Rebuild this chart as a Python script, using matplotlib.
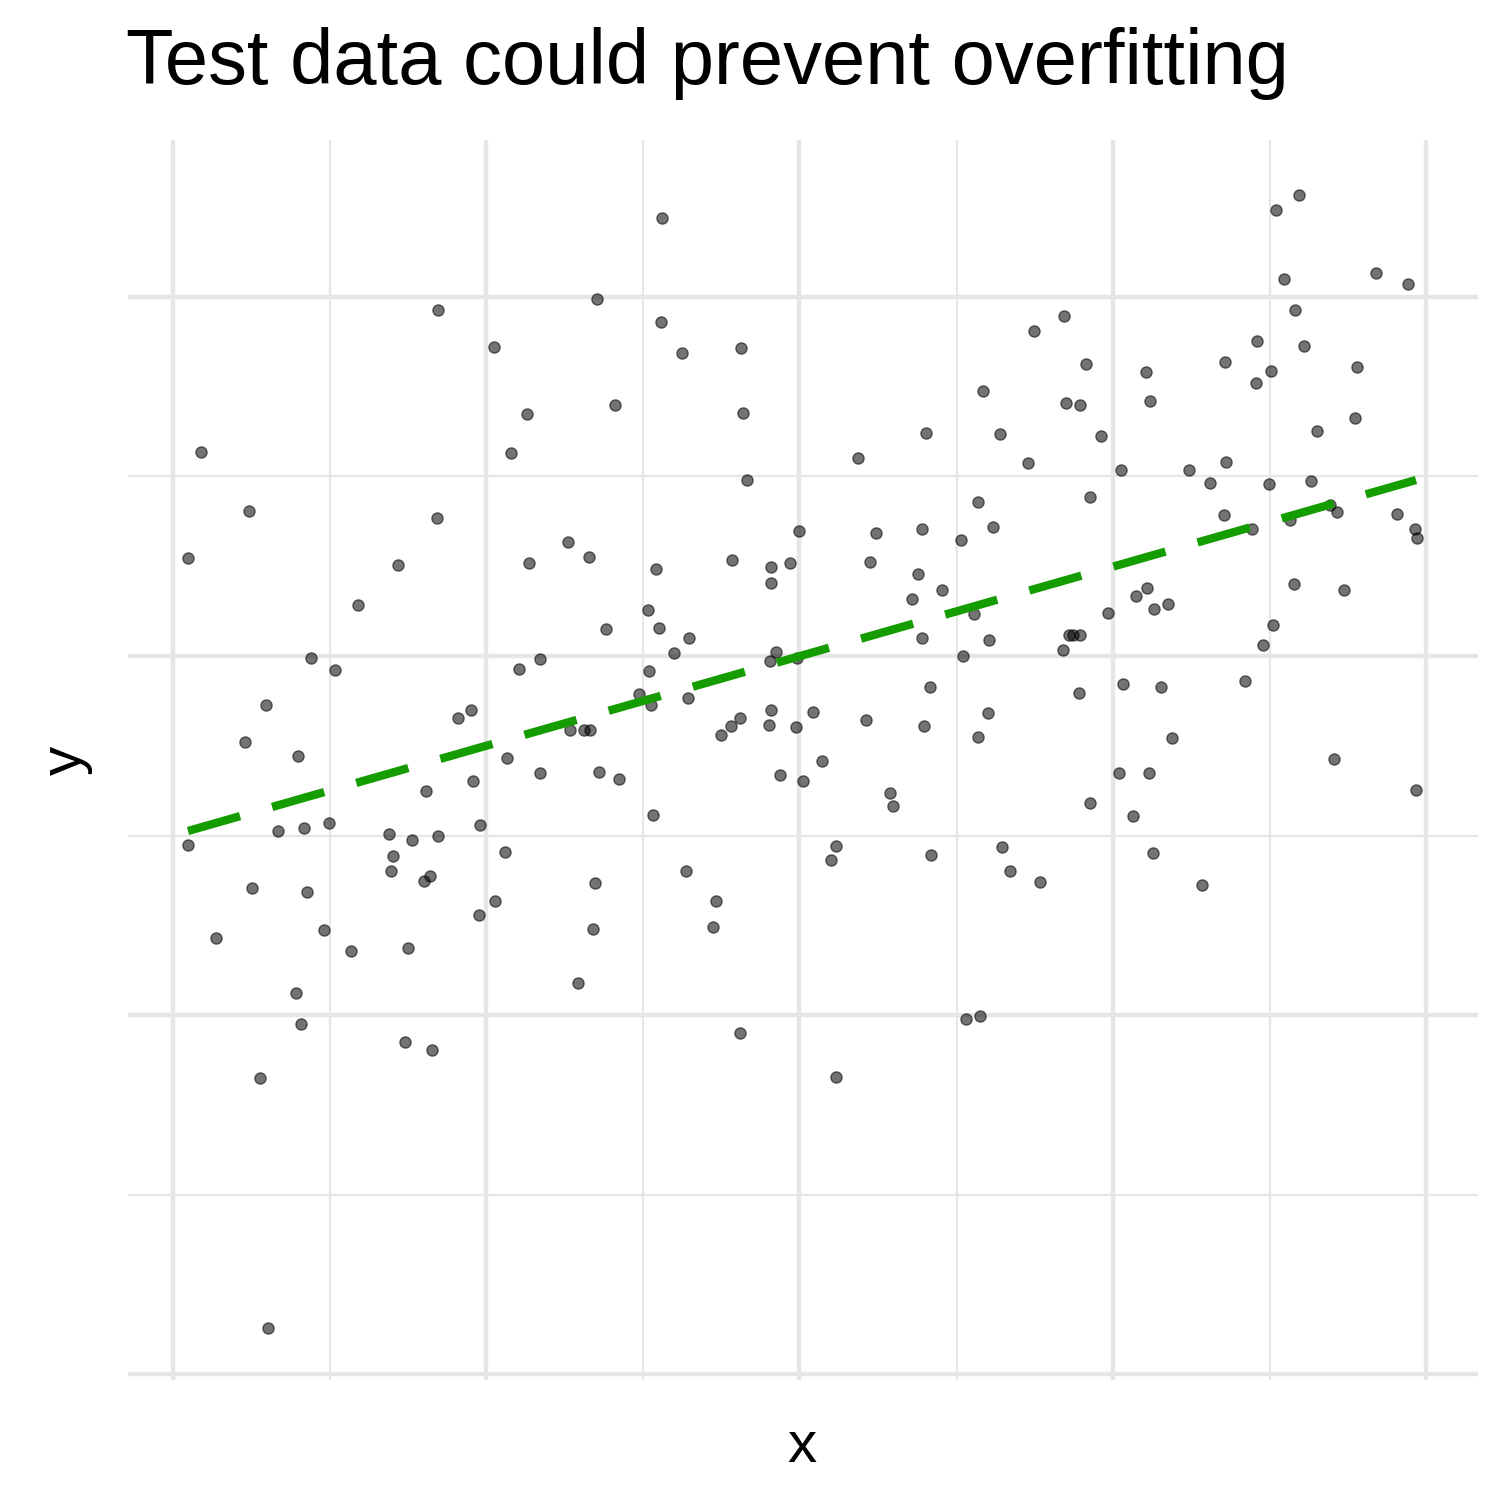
import numpy as np
import matplotlib.pyplot as plt

# data in arbitrary units (x right, y up)
pts = [(188,558),(201,452),(188,845),(216,938),(245,742),(249,511),(252,888),(260,1078),(266,705),(268,1328),(278,831),(296,993),(298,756),(301,1024),(304,828),(307,892),(311,658),(324,930),(329,823),(335,670),(351,951),(358,605),(389,834),(391,871),(393,856),(398,565),(405,1042),(408,948),(412,840),(424,881),(426,791),(430,876),(432,1050),(437,518),(438,310),(438,836),(458,718),(471,710),(473,781),(479,915),(480,825),(494,347),(495,901),(505,852),(507,758),(511,453),(519,669),(527,414),(529,563),(540,659),(540,773),(568,542),(570,730),(578,983),(584,730),(589,557),(590,730),(593,929),(595,883),(597,299),(599,772),(606,629),(615,405),(619,779),(639,694),(648,610),(649,671),(651,705),(653,815),(656,569),(659,628),(661,322),(662,218),(674,653),(682,353),(686,871),(688,698),(689,638),(713,927),(716,901),(721,735),(731,726),(732,560),(740,1033),(740,718),(741,348),(743,413),(747,480),(769,725),(770,661),(771,583),(771,710),(771,567),(776,652),(780,775),(790,563),(796,727),(797,658),(799,531),(803,781),(813,712),(822,761),(831,860),(836,846),(836,1077),(858,458),(866,720),(870,562),(876,533),(890,793),(893,806),(912,599),(918,574),(922,638),(922,529),(924,726),(926,433),(930,687),(931,855),(942,590),(961,540),(963,656),(966,1019),(974,614),(978,502),(978,737),(980,1016),(983,391),(988,713),(989,640),(993,527),(1000,434),(1002,847),(1010,871),(1028,463),(1034,331),(1040,882),(1063,650),(1064,316),(1066,403),(1069,635),(1073,635),(1079,693),(1080,635),(1080,405),(1086,364),(1090,497),(1090,803),(1101,436),(1108,613),(1119,773),(1121,470),(1123,684),(1133,816),(1136,596),(1146,372),(1147,588),(1149,773),(1150,401),(1153,853),(1154,609),(1161,687),(1168,604),(1172,738),(1189,470),(1202,885),(1210,483),(1224,515),(1225,362),(1226,462),(1245,681),(1252,529),(1256,383),(1257,341),(1263,645),(1269,484),(1271,371),(1273,625),(1276,210),(1284,279),(1290,520),(1294,584),(1295,310),(1299,195),(1304,346),(1311,481),(1317,431),(1330,505),(1334,759),(1337,512),(1344,590),(1355,418),(1357,367),(1376,273),(1397,514),(1408,284),(1415,529),(1416,790),(1417,538)]
x = np.array([p[0] for p in pts], float)
y = np.array([1512 - p[1] for p in pts], float)

fit_x = [188, 1416]
fit_y = [1512 - 831, 1512 - 480]

x_major = [173, 486, 799, 1113, 1426]
x_minor = [329.5, 643, 957, 1270]
y_major = [1215, 856, 497, 138]
y_minor = [1036, 676, 317]

fig = plt.figure(figsize=(15.12, 15.12), dpi=100)
ax = fig.add_axes([128/1512, 132/1512, 1350/1512, 1240/1512])
ax.set_xlim(128, 1478)
ax.set_ylim(132, 1372)

for v in x_major:
    ax.axvline(v, color="#e6e6e6", lw=3.2, zorder=0)
for v in x_minor:
    ax.axvline(v, color="#e6e6e6", lw=1.6, zorder=0)
for v in y_major:
    ax.axhline(v, color="#e6e6e6", lw=3.2, zorder=0)
for v in y_minor:
    ax.axhline(v, color="#e6e6e6", lw=1.6, zorder=0)

ax.scatter(x, y, s=65, color="black", alpha=0.55, edgecolors="black", linewidths=1, zorder=2)
ax.plot(fit_x, fit_y, color="#149c00", lw=6, dashes=(6.5, 4), zorder=3)

for s in ax.spines.values():
    s.set_visible(False)
ax.set_xticks([])
ax.set_yticks([])

fig.text(126/1512, 1 - 63/1512, "Test data could prevent overfitting",
         fontsize=56, va="center", ha="left", family="Liberation Sans")
fig.text(802/1512, 1 - 1447/1512, "x", fontsize=42, ha="center", va="center", family="Liberation Sans")
fig.text(66/1512, 1 - 760/1512, "y", fontsize=42, ha="center", va="center", rotation=90, family="Liberation Sans")

fig.savefig("out.png", dpi=100)
